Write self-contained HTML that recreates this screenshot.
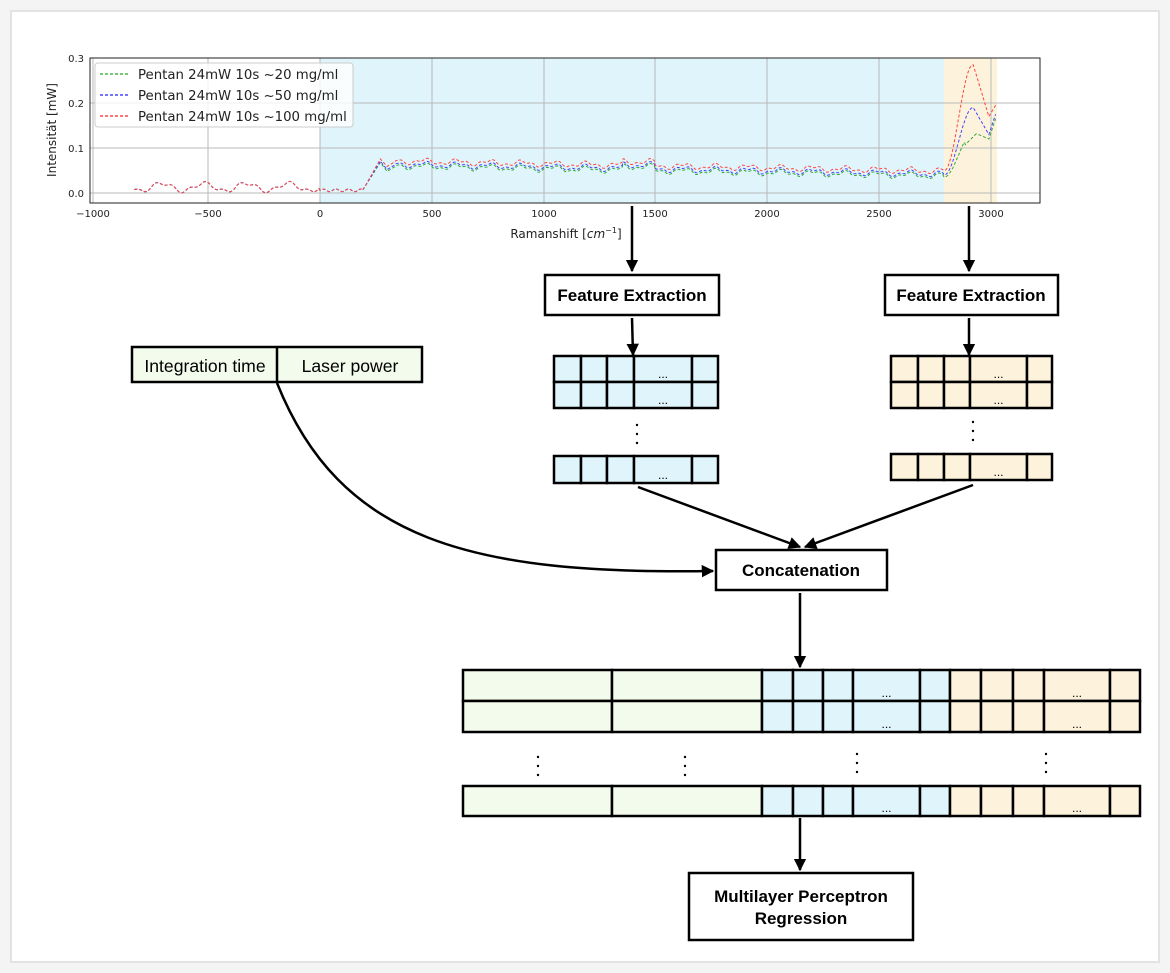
<!DOCTYPE html>
<html><head><meta charset="utf-8"><style>
html,body{margin:0;padding:0;background:#fff;}
svg{display:block;}
.lb{font-family:"Liberation Sans",sans-serif;font-weight:bold;font-size:17px;fill:#000;}
.tk{font-family:"DejaVu Sans","Liberation Sans",sans-serif;font-size:10px;fill:#222;}
.lg{font-family:"DejaVu Sans","Liberation Sans",sans-serif;font-size:13.3px;fill:#222;}
</style></head><body>
<svg id="s" width="1170" height="973" viewBox="0 0 1170 973" xmlns="http://www.w3.org/2000/svg">
<defs><marker id="a" viewBox="0 0 10 10" refX="9" refY="5" markerWidth="5" markerHeight="5" orient="auto"><path d="M0,0L10,5L0,10z" fill="#000"/></marker></defs>
<rect x="0" y="0" width="1170" height="973" fill="#f4f4f4"/>
<rect x="11" y="11" width="1148" height="951" fill="#fff" stroke="#e3e3e3" stroke-width="2"/>
<rect x="320" y="58" width="624" height="145" fill="#dff5fb"/>
<rect x="944" y="58" width="53" height="145" fill="#fdf3dc"/>
<g stroke="#b8b8b8" stroke-width="1">
<line x1="93" y1="58" x2="93" y2="203"/><line x1="208" y1="58" x2="208" y2="203"/><line x1="320" y1="58" x2="320" y2="203"/><line x1="432" y1="58" x2="432" y2="203"/><line x1="544" y1="58" x2="544" y2="203"/><line x1="655" y1="58" x2="655" y2="203"/><line x1="767" y1="58" x2="767" y2="203"/><line x1="879" y1="58" x2="879" y2="203"/><line x1="991" y1="58" x2="991" y2="203"/>
<line x1="90" y1="193" x2="1040" y2="193"/><line x1="90" y1="148" x2="1040" y2="148"/><line x1="90" y1="103" x2="1040" y2="103"/>
</g>
<g id="curves" fill="none" stroke-width="1" stroke-dasharray="3,2"></g>
<rect x="90" y="58" width="950" height="145" fill="none" stroke="#222" stroke-width="1"/>
<rect x="95" y="63" width="258" height="64" rx="3" fill="#fff" fill-opacity="0.8" stroke="#ccc"/>
<g stroke-width="1.2" stroke-dasharray="3,2"><line x1="100" y1="74" x2="130" y2="74" stroke="#2a2"/><line x1="100" y1="95" x2="130" y2="95" stroke="#22f"/><line x1="100" y1="116" x2="130" y2="116" stroke="#f22"/></g>
<text class="lg" x="138" y="79">Pentan 24mW 10s ~20 mg/ml</text>
<text class="lg" x="138" y="100">Pentan 24mW 10s ~50 mg/ml</text>
<text class="lg" x="138" y="121">Pentan 24mW 10s ~100 mg/ml</text>
<g class="tk" text-anchor="middle"><text x="93" y="217">−1000</text><text x="208" y="217">−500</text><text x="320" y="217">0</text><text x="432" y="217">500</text><text x="544" y="217">1000</text><text x="655" y="217">1500</text><text x="767" y="217">2000</text><text x="879" y="217">2500</text><text x="991" y="217">3000</text></g>
<g class="tk" text-anchor="end"><text x="84" y="197">0.0</text><text x="84" y="152">0.1</text><text x="84" y="107">0.2</text><text x="84" y="62">0.3</text></g>
<text class="tk" style="font-size:12px" x="566" y="238" text-anchor="middle">Ramanshift [<tspan font-style="italic">cm</tspan><tspan dy="-5" font-size="8">−1</tspan><tspan dy="5">]</tspan></text>
<text class="tk" style="font-size:12px" transform="translate(56,130) rotate(-90)" text-anchor="middle">Intensität [mW]</text>
<g stroke="#000" stroke-width="2.5" fill="none">
<line x1="632" y1="206" x2="632" y2="271" marker-end="url(#a)"/>
<line x1="969" y1="206" x2="969" y2="271" marker-end="url(#a)"/>
<line x1="632" y1="318" x2="633" y2="355" marker-end="url(#a)"/>
<line x1="969" y1="318" x2="969" y2="355" marker-end="url(#a)"/>
<line x1="638" y1="487" x2="800" y2="547" marker-end="url(#a)"/>
<line x1="973" y1="485" x2="805" y2="547" marker-end="url(#a)"/>
<path d="M277,383 C340,540 470,575 713,571" marker-end="url(#a)"/>
<line x1="800" y1="593" x2="800" y2="667" marker-end="url(#a)"/>
<line x1="800" y1="818" x2="800" y2="870" marker-end="url(#a)"/>
</g>
<g stroke="#000" stroke-width="2.5" fill="#fff">
<rect x="545" y="275" width="174" height="40"/><rect x="885" y="275" width="173" height="40"/>
<rect x="716" y="550" width="171" height="40"/><rect x="689" y="873" width="224" height="67"/>
<rect x="132" y="347" width="290" height="35" fill="#f3fbec"/><line x1="277" y1="347" x2="277" y2="382"/>
</g>
<text class="lb" x="632" y="301" text-anchor="middle">Feature Extraction</text>
<text class="lb" x="971" y="301" text-anchor="middle">Feature Extraction</text>
<text class="lb" x="801" y="576" text-anchor="middle">Concatenation</text>
<text class="lb" x="801" y="902" text-anchor="middle">Multilayer Perceptron</text>
<text class="lb" x="801" y="924" text-anchor="middle">Regression</text>
<text x="205" y="372" text-anchor="middle" style="font-family:'Liberation Sans',sans-serif;font-size:17.6px">Integration time</text>
<text x="350" y="372" text-anchor="middle" style="font-family:'Liberation Sans',sans-serif;font-size:17.6px">Laser power</text>
<g id="tables"></g>
</svg>
<script>
var NS="http://www.w3.org/2000/svg";
function el(p,t,a,txt){var e=document.createElementNS(NS,t);for(var k in a)e.setAttribute(k,a[k]);if(txt)e.textContent=txt;p.appendChild(e);return e;}
var T=document.getElementById('tables');
function row(xs,y,h,fills,dotsIdx){
  for(var i=0;i<xs.length-1;i++){el(T,'rect',{x:xs[i],y:y,width:xs[i+1]-xs[i],height:h,fill:fills[i],stroke:'#000','stroke-width':2.5});
   if(dotsIdx.indexOf(i)>=0)el(T,'text',{x:(xs[i]+xs[i+1])/2,y:y+h-4,'text-anchor':'middle','font-size':'12','font-family':'Liberation Sans,sans-serif'},'...');}
}
function vd(x,y){for(var i=0;i<3;i++)el(T,'circle',{cx:x,cy:y+i*9,r:1.2,fill:'#000'});}
var B='#dff5fb',O='#fdf3dc',G='#f3fbec';
var bx=[554,581,607,634,692,718],ox=[891,918,944,970,1027,1052];
[356,382,456].forEach(function(y){row(bx,y,y==456?27:26,[B,B,B,B,B],[3]);});
[356,382,454].forEach(function(y){row(ox,y,26,[O,O,O,O,O],[3]);});
vd(637,425);vd(973,422);
var big=[463,612,762,793,823,853,920,950,981,1013,1044,1110,1140];
var bf=[G,G,B,B,B,B,B,O,O,O,O,O];
[670,701,786].forEach(function(y){row(big,y,y==786?30:31,bf,[5,10]);});
vd(538,757);vd(685,757);vd(857,754);vd(1046,754);
var C=document.getElementById('curves');
function X(v){return 320+v*0.2237;} function Y(v){return 193-v*450;}
function base(x){
  if(x<0)return 0.013+0.009*Math.sin(x/30)+0.004*Math.sin(x/12);
  if(x<190)return 0.006+0.003*Math.sin(x/9);
  if(x<270)return 0.006+(x-190)/80*0.062;
  if(x<300)return 0.068-(x-270)/30*0.02;
  if(x<340)return 0.048+(x-300)/40*0.012;
  var t=0.06-(x-340)/2450*0.022;
  return t+0.005*Math.sin(x/23)+0.003*Math.sin(x/9.3)+(x>1350&&x<1500?0.008:0);
}
function sc(x,k){if(x<200)return 0; if(x<300)return k*(x-200)/100; return k;}
function peak(x,p,d,e){var s=(x-2790)/130; if(x<=2920) return 0.04+(p-0.04)*(1-Math.cos(Math.PI*Math.max(0,s)))/2;
  if(x<=2990) return p-(p-d)*(x-2920)/70; return d+(e-d)*(x-2990)/30;}
var specs=[['#3a3',0,0.135,0.12,0.165,0.035],['#44f',0.004,0.19,0.13,0.175,0.04],['#f44',0.011,0.285,0.17,0.195,0.05]];
specs.forEach(function(s){
  var d='';
  for(var x=-830;x<=3020;x+=5){
    var v;
    if(x<2790)v=base(x)+sc(x,s[1]);
    else {var b0=s[5];var q=peak(x,s[2],s[3],s[4]);v=q+(b0-0.04)*(1-Math.min(1,(x-2790)/130));}
    if(s[0]=='#3a3'&&x>2880&&x<2990)v=Math.min(v,0.105+0.03*(x-2880)/60);
    d+=(d?'L':'M')+X(x).toFixed(1)+','+Y(v).toFixed(1);
  }
  el(C,'path',{d:d,stroke:s[0]});
});
</script>
</body></html>
